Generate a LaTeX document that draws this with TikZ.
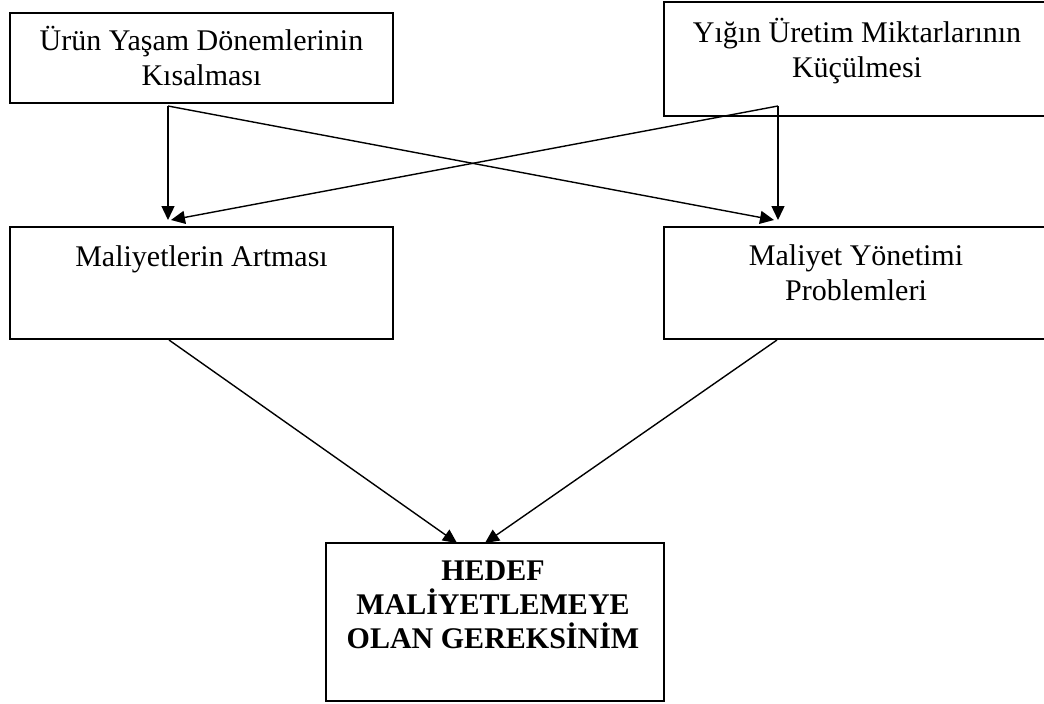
\documentclass[tikz,border=0pt]{standalone}
\usepackage{fontspec}
\setmainfont{Liberation Serif}
\usetikzlibrary{arrows.meta}
\begin{document}
\begin{tikzpicture}[x=1pt,y=-1pt,
  box/.style={draw, line width=2pt, inner sep=0pt},
  lbl/.style={anchor=base, inner sep=0pt, font=\fontsize{30}{35}\selectfont},
  hd/.style={anchor=base, inner sep=0pt, font=\fontsize{30}{35}\selectfont\bfseries},
  conn/.style={line width=1.4pt, -{Triangle[length=14pt,width=13pt]}}]
\useasboundingbox (0,0) rectangle (1044,704);
\fill[white] (0,0) rectangle (1044,704);
\clip (0,0) rectangle (1044,704);

% boxes
\node[box, minimum width=383pt, minimum height=90pt]  (b1) at (201.5,58)  {};
\node[box, minimum width=386pt, minimum height=114pt] (b2) at (857,59)    {};
\node[box, minimum width=383pt, minimum height=112pt] (b3) at (201.5,283) {};
\node[box, minimum width=386pt, minimum height=112pt] (b4) at (857,283)   {};
\node[box, minimum width=338pt, minimum height=158pt] (b5) at (495,622)   {};

% labels
\node[lbl] (t1a) at (201.5,50) {Ürün Yaşam Dönemlerinin};
\node[lbl] (t1b) at (201.5,85) {Kısalması};
\node[lbl] (t2a) at (857,42) {Yığın Üretim Miktarlarının};
\node[lbl] (t2b) at (857,77) {Küçülmesi};
\node[lbl] (t3a) at (201.5,266) {Maliyetlerin Artması};
\node[lbl] (t4a) at (856,265) {Maliyet Yönetimi};
\node[lbl] (t4b) at (856,300) {Problemleri};
\node[hd] (t5a) at (493,580) {HEDEF};
\node[hd] (t5b) at (493,614) {MALİYETLEMEYE};
\node[hd] (t5c) at (493,648) {OLAN GEREKSİNİM};

% connector end points
\coordinate (s1) at (168,106);
\coordinate (s2) at (778,106);
\coordinate (e1) at (168,220);
\coordinate (e2) at (778,220);
\coordinate (e3) at (774,220);
\coordinate (e4) at (171,220);
\coordinate (s3) at (169,340);
\coordinate (s4) at (777,340);
\coordinate (e5) at (457,543);
\coordinate (e6) at (485,543);

% connectors
\draw[conn] (s1) -- (e1);
\draw[conn] (s2) -- (e2);
\draw[conn] (s1) -- (e3);
\draw[conn] (s2) -- (e4);
\draw[conn] (s3) -- (e5);
\draw[conn] (s4) -- (e6);
\end{tikzpicture}
\end{document}
